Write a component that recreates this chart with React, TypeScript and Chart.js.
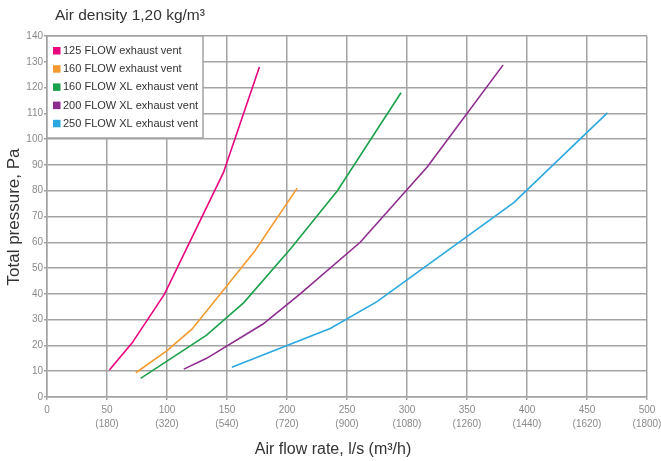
import React, { useEffect, useRef } from 'react';
import { Chart, registerables } from 'chart.js';

Chart.register(...registerables);

// ---- data ----
const seriesLabels = [
  '125 FLOW exhaust vent',
  '160 FLOW exhaust vent',
  '160 FLOW XL exhaust vent',
  '200 FLOW XL exhaust vent',
  '250 FLOW XL exhaust vent',
];
const seriesColors = ['#e8057f', '#f39a30', '#1ba04b', '#8e2b8e', '#2ba8e0'];

const flow125X = [52, 71, 98, 147, 177];
const flow125Y = [10.5, 21, 40, 87, 128];
const flow160X = [74, 100, 121, 173, 208.5];
const flow160Y = [9.4, 18, 26.4, 56.5, 81];
const flowXL160X = [78, 133, 164, 203, 242, 295];
const flowXL160Y = [7.2, 24, 36.6, 57.5, 80, 118];
const flowXL200X = [114, 133, 180, 211, 261, 317, 380];
const flowXL200Y = [10.8, 15, 28.3, 40, 60, 89.3, 128.7];
const flowXL250X = [154, 236, 275, 389, 467];
const flowXL250Y = [11.5, 26.6, 37, 75.4, 110.2];

const xTickValues = [0, 50, 100, 150, 200, 250, 300, 350, 400, 450, 500];
const xTickMain = ['0', '50', '100', '150', '200', '250', '300', '350', '400', '450', '500'];
const xTickSub = ['', '(180)', '(320)', '(540)', '(720)', '(900)', '(1080)', '(1260)', '(1440)', '(1620)', '(1800)'];
const yTickValues = [0, 10, 20, 30, 40, 50, 60, 70, 80, 90, 100, 110, 120, 130, 140];

const chartTitle = 'Air density 1,20 kg/m³';
const xTitle = 'Air flow rate, l/s (m³/h)';
const yTitle = 'Total pressure, Pa';

const seriesX = [flow125X, flow160X, flowXL160X, flowXL200X, flowXL250X];
const seriesY = [flow125Y, flow160Y, flowXL160Y, flowXL200Y, flowXL250Y];

const FONT = '"Liberation Sans", Arial, Helvetica, sans-serif';
const GRID = '#a3a3a3';

const overlayPlugin = {
  id: 'overlayTexts',
  afterDraw(chart: any) {
    const ctx = chart.ctx as CanvasRenderingContext2D;
    const a = chart.chartArea;
    ctx.save();
    // legend box
    const lx = a.left;
    const ly = a.top;
    const lw = 156;
    const lh = 102;
    ctx.fillStyle = '#ffffff';
    ctx.fillRect(lx, ly, lw, lh);
    ctx.strokeStyle = GRID;
    ctx.lineWidth = 1.5;
    ctx.strokeRect(lx, ly, lw, lh);
    ctx.font = `11px ${FONT}`;
    ctx.textBaseline = 'middle';
    ctx.textAlign = 'left';
    chart.data.datasets.forEach((ds: any, i: number) => {
      const cy = ly + 14.5 + i * 18.2;
      ctx.fillStyle = ds.borderColor;
      ctx.fillRect(lx + 6, cy - 3.5, 7.5, 7.5);
      ctx.fillStyle = '#333333';
      ctx.fillText(ds.label, lx + 16, cy + 0.5);
    });

    // titles
    ctx.fillStyle = '#333333';
    ctx.textBaseline = 'alphabetic';
    ctx.font = `15.5px ${FONT}`;
    ctx.textAlign = 'left';
    ctx.fillText(chartTitle, 55, 19.5);

    ctx.font = `16px ${FONT}`;
    ctx.textAlign = 'center';
    ctx.fillText(xTitle, 333, 454);

    ctx.font = `17px ${FONT}`;
    ctx.translate(19, 217);
    ctx.rotate(-Math.PI / 2);
    ctx.fillText(yTitle, 0, 0);
    ctx.restore();
  },
};

export default function App() {
  const ref = useRef<HTMLCanvasElement | null>(null);

  useEffect(() => {
    if (!ref.current) return;
    const chart = new Chart(ref.current, {
      type: 'line',
      data: {
        datasets: seriesLabels.map((label, i) => ({
          label,
          data: seriesX[i].map((x, j) => ({ x, y: seriesY[i][j] })),
          borderColor: seriesColors[i],
          backgroundColor: seriesColors[i],
          borderWidth: 1.6,
          pointRadius: 0,
          tension: 0,
          fill: false,
        })),
      },
      options: {
        responsive: false,
        animation: false,
        events: [],
        layout: { padding: { top: 36, right: 14, left: 0, bottom: 0 } },
        plugins: {
          legend: { display: false },
          tooltip: { enabled: false },
          title: { display: false },
        },
        scales: {
          x: {
            type: 'linear',
            min: 0,
            max: 500,
            afterBuildTicks: (s: any) => {
              s.ticks = xTickValues.map((v) => ({ value: v }));
            },
            afterFit: (s: any) => {
              s.height = 64;
              s.paddingLeft = 0;
              s.paddingRight = 0;
            },
            grid: { color: GRID, lineWidth: 1.5, tickLength: 3, drawTicks: true },
            border: { color: GRID, width: 1.5 },
            ticks: {
              autoSkip: false,
              maxRotation: 0,
              padding: 3,
              color: '#8a8a8a',
              font: { family: FONT, size: 10, lineHeight: 1.4 },
              callback: (_v: any, i: number) =>
                xTickSub[i] ? [xTickMain[i], xTickSub[i]] : xTickMain[i],
            },
          },
          y: {
            type: 'linear',
            min: 0,
            max: 140,
            afterBuildTicks: (s: any) => {
              s.ticks = yTickValues.map((v) => ({ value: v }));
            },
            afterFit: (s: any) => {
              s.width = 47;
              s.paddingTop = 0;
              s.paddingBottom = 0;
            },
            grid: { color: GRID, lineWidth: 1.5, tickLength: 3, drawTicks: true },
            border: { color: GRID, width: 1.5 },
            ticks: {
              autoSkip: false,
              padding: 1,
              color: '#8a8a8a',
              font: { family: FONT, size: 10 },
              callback: (_v: any, i: number) => String(yTickValues[i]),
            },
          },
        },
      },
      plugins: [overlayPlugin],
    });
    return () => chart.destroy();
  }, []);

  return (
    <div
      style={{
        position: 'absolute',
        left: 0,
        top: 0,
        width: 661,
        height: 461,
        background: '#ffffff',
        overflow: 'hidden',
      }}
    >
      <canvas ref={ref} width={661} height={461} style={{ display: 'block' }} />
    </div>
  );
}
